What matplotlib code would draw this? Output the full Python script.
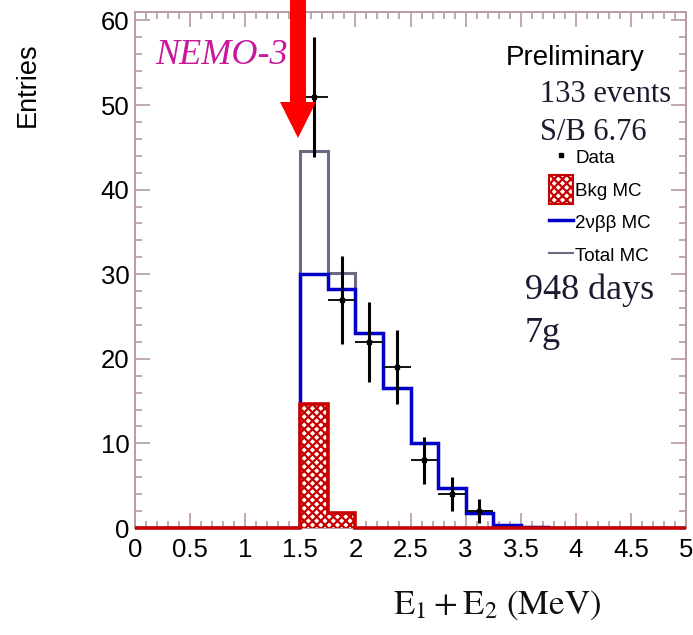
import numpy as np
import matplotlib
matplotlib.use("Agg")
import matplotlib.pyplot as plt
from matplotlib.ticker import MultipleLocator, FixedLocator, FixedFormatter
from matplotlib.lines import Line2D
from matplotlib.patches import Patch, FancyArrow, Rectangle
from matplotlib.legend_handler import HandlerPatch

plt.rcParams['font.family'] = ['Liberation Sans', 'DejaVu Sans']
plt.rcParams['mathtext.fontset'] = 'stix'
plt.rcParams['hatch.linewidth'] = 1.6

# ---------------- data ----------------
bin_edges = [0.0, 0.25, 0.5, 0.75, 1.0, 1.25, 1.5, 1.75, 2.0, 2.25, 2.5,
             2.75, 3.0, 3.25, 3.5, 3.75, 4.0, 4.25, 4.5, 4.75, 5.0]
two_nu_mc = [0, 0, 0, 0, 0, 0, 30.0, 28.3, 23.0, 16.5, 10.0,
             4.7, 1.8, 0.4, 0.15, 0, 0, 0, 0, 0]
bkg_mc = [0, 0, 0, 0, 0, 0, 14.6, 1.8, 0, 0, 0,
          0, 0, 0, 0, 0, 0, 0, 0, 0]
data_x = [1.625, 1.875, 2.125, 2.375, 2.625, 2.875, 3.125]
data_y = [51, 27, 22, 19, 8, 4, 2]
data_err = [7.1, 5.2, 4.7, 4.4, 2.8, 2.0, 1.4]
data_xerr = [0.125] * 7
x_tick_vals = [0, 0.5, 1, 1.5, 2, 2.5, 3, 3.5, 4, 4.5, 5]
x_tick_labels = ['0', '0.5', '1', '1.5', '2', '2.5', '3', '3.5', '4', '4.5', '5']
y_tick_vals = [0, 10, 20, 30, 40, 50, 60]
y_tick_labels = ['0', '10', '20', '30', '40', '50', '60']

total_mc = [a + b for a, b in zip(two_nu_mc, bkg_mc)]

# ---------------- figure ----------------
W, H = 693, 635
fig = plt.figure(figsize=(W / 100, H / 100), dpi=100)
AX_L, AX_R, AX_T, AX_B = 135, 686, 12, 528
ax = fig.add_axes([AX_L / W, (H - AX_B) / H, (AX_R - AX_L) / W, (AX_B - AX_T) / H])

def px(x, y):
    return ((x - AX_L) / (AX_R - AX_L), (AX_B - y) / (AX_B - AX_T))

frame_c = '#b89ca2'
red = '#c80000'
blue = '#0000c8'
gray = '#6a6a82'

ax.stairs(total_mc, bin_edges, color=gray, lw=2.2, zorder=2)
ax.stairs(two_nu_mc, bin_edges, color=blue, lw=2.5, zorder=3)
ax.stairs(bkg_mc, bin_edges, fill=True, facecolor='white', edgecolor=red,
          hatch='xxxx', lw=0, zorder=3.5)
ax.stairs(bkg_mc, bin_edges, color=red, lw=2.6, zorder=4, clip_on=False)

# data error bars
ax.errorbar(data_x, data_y, yerr=data_err, fmt='none', ecolor='black',
            elinewidth=2.2, capsize=0, zorder=5)
ax.errorbar(data_x, data_y, xerr=data_xerr, fmt='s', color='black', ms=3,
            elinewidth=1.3, capsize=0, zorder=5)

ax.set_xlim(0, 5)
ax.set_ylim(0, 61)

for s in ax.spines.values():
    s.set_color(frame_c)
    s.set_linewidth(1.4)

ax.xaxis.set_major_locator(FixedLocator(x_tick_vals))
ax.xaxis.set_major_formatter(FixedFormatter(x_tick_labels))
ax.xaxis.set_minor_locator(MultipleLocator(0.1))
ax.yaxis.set_major_locator(FixedLocator(y_tick_vals))
ax.yaxis.set_major_formatter(FixedFormatter(y_tick_labels))
ax.yaxis.set_minor_locator(MultipleLocator(2))
ax.tick_params(which='both', direction='in', top=True, right=True,
               color=frame_c, width=1.2, labelsize=18.5, labelcolor='black')
ax.tick_params(which='major', length=11)
ax.tick_params(which='minor', length=5)
ax.tick_params(axis='x', pad=7)
ax.tick_params(axis='y', pad=4)

# axis titles
fig.text(28 / W, 1 - 85 / H, 'Entries', rotation=90, ha='center', va='center',
         fontsize=19.5, color='black')
fig.text(497 / W, 1 - 605 / H, r'$\mathrm{E_1 + E_2\ (MeV)}$', ha='center',
         va='center', fontsize=25, color='#111111')

# annotations
ax.text(*px(155, 55), 'NEMO-3', transform=ax.transAxes, ha='left', va='center',
        fontsize=26, style='italic', family='Liberation Serif', color='#c8189c')
ax.text(*px(506, 58), 'Preliminary', transform=ax.transAxes, ha='left', va='center',
        fontsize=20, color='black')
ax.text(*px(540, 95), '133 events', transform=ax.transAxes, ha='left', va='center',
        fontsize=22, family='Liberation Serif', color='#1a1a30')
ax.text(*px(540, 133), 'S/B 6.76', transform=ax.transAxes, ha='left', va='center',
        fontsize=22, family='Liberation Serif', color='#1a1a30')
ax.text(*px(525, 290), '948 days', transform=ax.transAxes, ha='left', va='center',
        fontsize=26, family='Liberation Serif', color='#1a1a30')
ax.text(*px(525, 333), '7g', transform=ax.transAxes, ha='left', va='center',
        fontsize=26, family='Liberation Serif', color='#1a1a30')


def big_box(legend, orig_handle, xdescent, ydescent, width, height, fontsize):
    return Rectangle((-xdescent, -ydescent - 3.5), width, height + 7)


handles = [
    Line2D([], [], marker='s', ms=2.5, color='black', ls='none'),
    Patch(facecolor='white', edgecolor=red, hatch='xxxx', lw=1.5),
    Line2D([], [], color=blue, lw=2.5),
    Line2D([], [], color=gray, lw=1.5),
]
labels = ['Data', 'Bkg MC', '2νββ MC', 'Total MC']
leg = ax.legend(handles, labels, loc='upper left',
                bbox_to_anchor=(549 / W, 1 - 147 / H), bbox_transform=fig.transFigure,
                frameon=False, borderpad=0, borderaxespad=0, fontsize=13.5,
                handlelength=1.3, handleheight=1.25, handletextpad=0.1,
                labelspacing=0.66,
                handler_map={Patch: HandlerPatch(patch_func=big_box)})

# red arrow (drawn in figure inches)
tip_x = 2.98
arrow = FancyArrow(tip_x, H / 100 + 0.05, 0, -(0.05 + 1.38), width=0.16,
                   head_width=0.36, head_length=0.36, length_includes_head=True,
                   color='#ff0000', lw=0, transform=fig.dpi_scale_trans, zorder=10)
fig.patches.append(arrow)

fig.savefig('out.png', dpi=100)
